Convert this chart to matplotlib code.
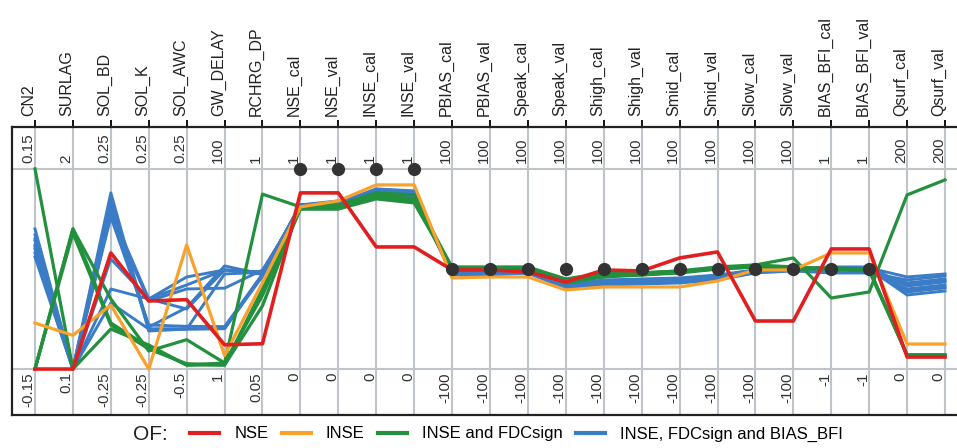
import numpy as np
import matplotlib
matplotlib.use("Agg")
import matplotlib.pyplot as plt
from matplotlib.lines import Line2D

plt.rcParams['font.family'] = ['Liberation Sans', 'DejaVu Sans']

# -----------------------------
# Axes of the parallel plot
# -----------------------------
axis_names = ["CN2", "SURLAG", "SOL_BD", "SOL_K", "SOL_AWC", "GW_DELAY", "RCHRG_DP",
              "NSE_cal", "NSE_val", "INSE_cal", "INSE_val",
              "PBIAS_cal", "PBIAS_val", "Speak_cal", "Speak_val", "Shigh_cal", "Shigh_val",
              "Smid_cal", "Smid_val", "Slow_cal", "Slow_val",
              "BIAS_BFI_cal", "BIAS_BFI_val", "Qsurf_cal", "Qsurf_val"]
axis_min = [-0.15, 0.1, -0.25, -0.25, -0.5, 1, 0.05,
            0, 0, 0, 0,
            -100, -100, -100, -100, -100, -100, -100, -100, -100, -100,
            -1, -1, 0, 0]
axis_max = [0.15, 2, 0.25, 0.25, 0.25, 100, 1,
            1, 1, 1, 1,
            100, 100, 100, 100, 100, 100, 100, 100, 100, 100,
            1, 1, 200, 200]

# optimum of each objective (black dots)
opt_axes = ["NSE_cal", "NSE_val", "INSE_cal", "INSE_val",
            "PBIAS_cal", "PBIAS_val", "Speak_cal", "Speak_val", "Shigh_cal", "Shigh_val",
            "Smid_cal", "Smid_val", "Slow_cal", "Slow_val", "BIAS_BFI_cal", "BIAS_BFI_val"]
opt_vals = [1, 1, 1, 1, 0, 0, 0, 0, 0, 0, 0, 0, 0, 0, 0, 0]

# -----------------------------
# Solutions per objective function
# -----------------------------
nse_runs = [
    [-0.15, 0.1, 0.04, -0.08, -0.24, 13, 0.17, 0.88, 0.88, 0.61, 0.61,
     -1, -1, -3, -13, -1, -2, 11, 17, -52, -52, 0.2, 0.2, 12, 12],
]

inse_runs = [
    [-0.081, 0.42, -0.09, -0.25, -0.035, 7.7, 0.46, 0.81, 0.84, 0.92, 0.92,
     -9, -8, -8, -21, -18, -18, -18, -12, -1, -1, 0.16, 0.16, 25, 25],
]

inse_fdc_runs = [
    [0.15, 0.1, -0.15, -0.19, -0.485, 4, 0.88, 0.81, 0.82, 0.88, 0.87,
     0, 0, 0, -12, -6, -4, -2, 0, 4, 11, -0.29, -0.23, 174, 189],
    [-0.15, 1.43, -0.075, -0.205, -0.39, 4, 0.40, 0.80, 0.80, 0.85, 0.83,
     0, 0, 0, -14, -8, -6, -4, 0, 2, 0, 0.0, -0.02, 14, 14],
    [-0.15, 1.43, -0.135, -0.195, -0.485, 3, 0.35, 0.81, 0.81, 0.87, 0.85,
     2, 2, 2, -10, -4, -4, -2, 2, 4, 2, 0.0, 0.0, 14, 14],
    [-0.15, 1.39, -0.14, -0.20, -0.48, 3, 0.43, 0.80, 0.80, 0.86, 0.84,
     0, 0, 0, -12, -6, -6, -3, 0, 2, 1, 0.01, 0.0, 14, 14],
]

inse_fdc_bfi_runs = [
    [0.060, 0.1, 0.190, -0.150, -0.350, 21, 0.50, 0.82, 0.83, 0.89, 0.88,
     -4, -4, -2, -18, -14, -12, -12, -8, -2, 0, 0.00, 0.00, 74, 78],
    [0.051, 0.1, 0.175, -0.155, -0.350, 48, 0.51, 0.81, 0.83, 0.88, 0.87,
     -4, -5, -3, -17, -13, -12, -11, -8, -2, -1, 0.01, 0.01, 77, 81],
    [0.042, 0.1, 0.160, -0.145, -0.270, 52, 0.50, 0.82, 0.84, 0.89, 0.88,
     -5, -5, -4, -18, -15, -14, -13, -10, -3, -1, -0.02, -0.02, 80, 84],
    [0.033, 0.1, 0.145, -0.075, -0.155, 50, 0.51, 0.81, 0.82, 0.88, 0.86,
     -4, -3, 0, -16, -12, -11, -10, -7, -1, 0, 0.02, 0.02, 83, 87],
    [0.024, 0.1, 0.135, -0.080, -0.200, 41, 0.52, 0.80, 0.82, 0.87, 0.86,
     -5, -4, -2, -17, -14, -13, -12, -9, -2, -1, -0.01, -0.01, 86, 90],
    [0.018, 0.1, 0.130, -0.140, -0.340, 22, 0.50, 0.82, 0.83, 0.90, 0.89,
     -6, -6, -4, -19, -16, -15, -14, -11, -4, -2, -0.04, -0.04, 89, 93],
    [0.036, 0.1, 0.025, -0.075, -0.185, 50, 0.51, 0.81, 0.83, 0.89, 0.88,
     -3, -3, -1, -16, -11, -10, -9, -6, -1, 0, 0.01, 0.01, 92, 95],
    [0.030, 0.1, -0.050, -0.075, -0.275, 50, 0.50, 0.82, 0.83, 0.88, 0.87,
     -4, -4, -2, -17, -13, -12, -11, -8, -2, -1, 0.00, 0.00, 78, 82],
    [0.045, 0.1, -0.085, -0.150, -0.350, 21, 0.49, 0.80, 0.82, 0.87, 0.86,
     -5, -5, -3, -18, -14, -13, -12, -9, -3, -1, -0.03, -0.03, 84, 88],
]

colors = {"NSE": "#e02020", "INSE": "#faa12c",
          "INSE and FDCsign": "#22903c", "INSE, FDCsign and BIAS_BFI": "#3a7cc6"}


def normalise(run):
    run = np.asarray(run, dtype=float)
    lo = np.asarray(axis_min, dtype=float)
    hi = np.asarray(axis_max, dtype=float)
    return (run - lo) / (hi - lo)


x = np.arange(len(axis_names))

fig = plt.figure(figsize=(9.57, 4.48), dpi=100)
ax = fig.add_axes([12 / 957, 33 / 448, 945 / 957, 288 / 448])

# grid: one vertical line per axis, plus min / max lines
for xi in x:
    ax.axvline(xi, color="#bfc3ca", lw=1.5, zorder=0)
ax.axhline(0, color="#bfc3ca", lw=1.5, zorder=0)
ax.axhline(1, color="#bfc3ca", lw=1.5, zorder=0)

# solutions, drawn from back to front
for run in inse_fdc_bfi_runs:
    ax.plot(x, normalise(run), color=colors["INSE, FDCsign and BIAS_BFI"], lw=2.1, zorder=2)
for run in inse_fdc_runs:
    ax.plot(x, normalise(run), color=colors["INSE and FDCsign"], lw=2.3, zorder=3)
for run in inse_runs:
    ax.plot(x, normalise(run), color=colors["INSE"], lw=2.3, zorder=4)
for run in nse_runs:
    ax.plot(x, normalise(run), color=colors["NSE"], lw=2.6, zorder=5)

# optimum markers
opt_x = [axis_names.index(n) for n in opt_axes]
opt_f = [(v - axis_min[i]) / (axis_max[i] - axis_min[i]) for i, v in zip(opt_x, opt_vals)]
ax.plot(opt_x, opt_f, "o", color="#333333", ms=8.5, zorder=6)

ax.set_xlim(-23 / 37.92, 24 + 12 / 37.92)
ax.set_ylim(-45 / 196, 1 + 41 / 196)
ax.set_yticks([])
ax.set_xticks(x)
ax.tick_params(axis="x", top=True, bottom=False, labeltop=False, labelbottom=False,
               direction="out", length=5, width=1.3, color="black")
for side in ["left", "top", "bottom"]:
    ax.spines[side].set_color("#222222")
    ax.spines[side].set_linewidth(1.6)
ax.spines["right"].set_visible(False)

# axis names and ranges
for i, name in enumerate(axis_names):
    ax.text(i + 0.04, 1 + 52 / 196, name, rotation=90, ha="right", va="bottom",
            fontsize=11.5, color="#222222", clip_on=False)
    ax.text(i + 0.02, 1 + 6 / 196, "{:g}".format(axis_max[i]), rotation=90,
            ha="right", va="bottom", fontsize=11, color="#333333")
    ax.text(i + 0.02, -3 / 196, "{:g}".format(axis_min[i]), rotation=90,
            ha="right", va="top", fontsize=11, color="#333333")

# legend
fig.text(133 / 957, 14 / 448, "OF:", fontsize=15, ha="left", va="center", color="#222222")
handles = [Line2D([], [], color=c, lw=3) for c in colors.values()]
fig.legend(handles, list(colors.keys()), loc="center left", bbox_to_anchor=(190 / 957, 14 / 448),
           ncol=4, frameon=False, fontsize=12, handlelength=1.75, handletextpad=0.9,
           columnspacing=0.8, borderpad=0, borderaxespad=0)

fig.savefig("out.png", dpi=100)
